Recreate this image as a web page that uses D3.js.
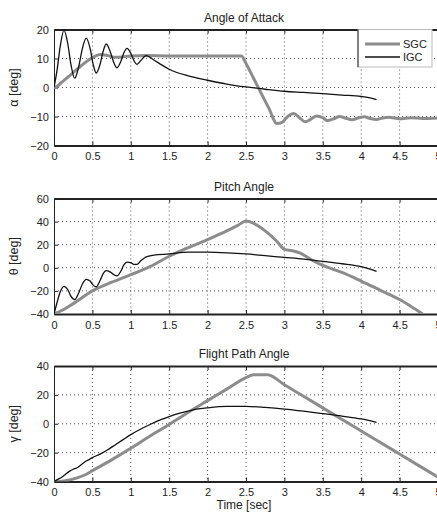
<!DOCTYPE html>
<html>
<head>
<meta charset="utf-8">
<script src="https://cdn.jsdelivr.net/npm/d3@7"></script>
<style>
  body { margin: 0; background: #fff; }
  svg { display: block; }
  text { font-family: "Liberation Sans", Arial, Helvetica, sans-serif; fill: #222; }
</style>
</head>
<body>
<div id="chart"></div>
<script>
var width = 437
var height = 513

var margin = { left: 54, right: -1 }

// time axis
var timeTicks = [0, 0.5, 1, 1.5, 2, 2.5, 3, 3.5, 4, 4.5, 5]
var timeLabels = ["0", "0.5", "1", "1.5", "2", "2.5", "3", "3.5", "4", "4.5", "5"]

// angle of attack [deg]
var alphaTicks = [-20, -10, 0, 10, 20]
var alphaSGC = [[0,0],[0.05,0.6],[0.1,1.8],[0.2,4],[0.3,6.3],[0.4,8.5],[0.5,10.3],[0.6,11.4],[0.7,11],
  [0.8,10.4],[0.9,10.6],[1.0,10.9],[1.2,11],[1.5,10.9],[2.0,10.9],[2.44,10.9],[2.5,8.3],[2.6,3.1],
  [2.7,-2.1],[2.8,-7.3],[2.9,-12.4],[2.97,-12],[3.05,-9.8],[3.12,-9],[3.2,-10.5],[3.27,-11.8],
  [3.35,-10.8],[3.42,-9.8],[3.5,-10.4],[3.56,-11.4],[3.64,-10.8],[3.72,-10],[3.8,-10.6],[3.88,-11.1],
  [3.96,-10.5],[4.04,-10.1],[4.12,-10.7],[4.2,-11],[4.28,-10.5],[4.36,-10.3],[4.5,-10.8],[4.65,-10.4],
  [4.8,-10.7],[5,-10.5]]
var alphaIGC = [[0,0],[0.04,6],[0.08,14],[0.13,19.8],[0.18,15],[0.22,8],[0.27,3.2],[0.32,7],[0.37,13.5],
  [0.42,17],[0.47,13.5],[0.51,8],[0.55,5],[0.6,8],[0.64,12.5],[0.68,15],[0.73,12.5],[0.78,8.5],[0.82,6.8],
  [0.87,9],[0.91,12],[0.95,13.5],[1.0,11.8],[1.04,9.3],[1.08,8],[1.13,9.3],[1.2,11],[1.3,9.5],[1.4,7.8],
  [1.5,6.3],[1.75,4],[2.0,2.5],[2.25,1.2],[2.5,0.2],[2.75,-0.6],[3.0,-1.3],[3.25,-1.7],[3.5,-2.1],
  [3.75,-2.6],[4.0,-3.1],[4.1,-3.5],[4.2,-4.2]]

// pitch angle [deg]
var thetaTicks = [-40, -20, 0, 20, 40, 60]
var thetaSGC = [[0,-40],[0.1,-37],[0.25,-31],[0.5,-20],[0.75,-12.5],[1.0,-6],[1.25,1],[1.5,10],[1.75,17.5],
  [2.0,24.5],[2.25,32],[2.4,37],[2.5,40.5],[2.6,38.5],[2.75,32],[2.9,23],[3.0,16],[3.1,14.8],[3.2,13],
  [3.35,7],[3.5,2],[3.75,-4],[4.0,-11.5],[4.25,-19.5],[4.5,-27.5],[4.65,-33.5],[4.8,-40]]
var thetaIGC = [[0,-40],[0.04,-30],[0.08,-21],[0.13,-16],[0.18,-19],[0.22,-24.5],[0.27,-27.5],[0.32,-22],
  [0.37,-14],[0.42,-10],[0.47,-11.5],[0.51,-15],[0.55,-16.5],[0.6,-11],[0.64,-5],[0.68,-2.5],[0.73,-3.5],
  [0.78,-6],[0.82,-7],[0.87,-3],[0.91,2.5],[0.95,5],[1.0,4.5],[1.04,3],[1.08,3],[1.13,6],[1.2,9.5],
  [1.3,11],[1.5,12],[1.75,13.5],[2.0,13.5],[2.25,13],[2.5,12],[2.75,10.5],[3.0,9],[3.25,7.5],[3.5,5.5],
  [3.75,3.5],[4.0,1],[4.2,-3]]

// flight path angle [deg]
var gammaTicks = [-40, -20, 0, 20, 40]
var gammaSGC = [[0,-40],[0.1,-39.8],[0.2,-39],[0.3,-37.5],[0.4,-35.5],[0.5,-32.5],[0.75,-25],[1.0,-17],
  [1.25,-8.5],[1.5,-0.5],[1.75,8],[2.0,16],[2.25,24],[2.5,32],[2.6,34],[2.78,34],[3.0,27],[3.25,19],
  [3.5,11],[3.75,3],[4.0,-5],[4.25,-13],[4.5,-21],[4.75,-29],[5.0,-37]]
var gammaIGC = [[0,-40],[0.05,-38.5],[0.1,-37],[0.15,-35],[0.2,-33],[0.25,-31.5],[0.3,-30.5],[0.35,-28.5],
  [0.4,-26.5],[0.45,-25],[0.5,-23.5],[0.6,-21],[0.7,-18],[0.8,-14.5],[0.9,-11],[1.0,-7.5],[1.1,-4.5],
  [1.25,-0.5],[1.4,3],[1.5,5],[1.65,7.5],[1.8,9.5],[2.0,11],[2.25,12],[2.5,12],[2.75,11.3],[3.0,10.2],
  [3.25,8.7],[3.5,7],[3.75,5.3],[4.0,3.3],[4.2,1]]

var panels = [
  { title: "Angle of Attack", ylabel: "\u03b1 [deg]", top: 29.5, bottom: 145.5, domain: [-20, 20],
    ticks: alphaTicks, sgc: alphaSGC, igc: alphaIGC, legend: true },
  { title: "Pitch Angle", ylabel: "\u03b8 [deg]", top: 198.5, bottom: 314, domain: [-40, 60],
    ticks: thetaTicks, sgc: thetaSGC, igc: thetaIGC },
  { title: "Flight Path Angle", ylabel: "\u03b3 [deg]", top: 366, bottom: 481.5, domain: [-40, 40],
    ticks: gammaTicks, sgc: gammaSGC, igc: gammaIGC }
]

var svg = d3.select("#chart").append("svg").attr("width", width).attr("height", height)

var xScale = d3.scaleLinear().domain([0, 5]).range([margin.left, 438])

function fmt(v) { return v < 0 ? "\u2212" + Math.abs(v) : "" + v }

function drawPanel(p, i) {
  var yScale = d3.scaleLinear().domain(p.domain).range([p.bottom, p.top])
  var g = svg.append("g")
  var x0 = xScale.range()[0], x1 = xScale.range()[1]

  g.append("clipPath").attr("id", "clip" + i)
    .append("rect").attr("x", x0).attr("y", p.top).attr("width", x1 - x0).attr("height", p.bottom - p.top)

  // dotted grid
  g.selectAll(".vgrid").data(timeTicks.slice(1, -1)).enter().append("line")
    .attr("x1", d => xScale(d)).attr("x2", d => xScale(d))
    .attr("y1", p.top).attr("y2", p.bottom)
    .attr("stroke", "#555").attr("stroke-width", 1).attr("stroke-dasharray", "1,3")
  g.selectAll(".hgrid").data(p.ticks.slice(1, -1)).enter().append("line")
    .attr("x1", x0).attr("x2", x1)
    .attr("y1", d => yScale(d)).attr("y2", d => yScale(d))
    .attr("stroke", "#555").attr("stroke-width", 1).attr("stroke-dasharray", "1,3")

  // axes
  var xBottom = d3.axisBottom(xScale).tickValues(timeTicks).tickSize(-4).tickSizeOuter(0).tickPadding(7)
    .tickFormat((d, k) => timeLabels[k])
  var gb = g.append("g").attr("transform", "translate(0," + p.bottom + ")").call(xBottom)
  var xTop = d3.axisTop(xScale).tickValues(timeTicks).tickSize(-4).tickSizeOuter(0).tickFormat("")
  var gt = g.append("g").attr("transform", "translate(0," + p.top + ")").call(xTop)
  var yLeft = d3.axisLeft(yScale).tickValues(p.ticks).tickSize(-4).tickSizeOuter(0).tickPadding(5).tickFormat(fmt)
  var gl = g.append("g").attr("transform", "translate(" + x0 + ",0)").call(yLeft)

  ;[gb, gt, gl].forEach(function(a) {
    a.select(".domain").attr("stroke", "#222")
    a.selectAll(".tick line").attr("stroke", "#222")
    a.selectAll("text").style("font-family", "'Liberation Sans', Arial, sans-serif")
      .style("font-size", "11px").attr("fill", "#222")
  })
  gb.select(".domain").attr("stroke-width", 1.8)
  gt.select(".domain").attr("stroke-width", 1.8)

  // title and y label
  g.append("text").attr("x", (x0 + x1) / 2 - 2).attr("y", p.top - 8)
    .attr("text-anchor", "middle").style("font-size", "12px").text(p.title)
  g.append("text")
    .attr("transform", "translate(18," + (p.top + p.bottom) / 2 + ") rotate(-90)")
    .attr("text-anchor", "middle").style("font-size", "12.5px").text(p.ylabel)

  var line = d3.line().x(d => xScale(d[0])).y(d => yScale(d[1])).curve(d3.curveMonotoneX)

  var plot = g.append("g").attr("clip-path", "url(#clip" + i + ")")
  plot.append("path").datum(p.sgc).attr("d", line)
    .attr("fill", "none").attr("stroke", "#8c8c8c").attr("stroke-width", 3)
  plot.append("path").datum(p.igc).attr("d", line)
    .attr("fill", "none").attr("stroke", "#111").attr("stroke-width", 1.3)

  if (p.legend) {
    var lg = g.append("g")
    lg.append("rect").attr("x", 358).attr("y", p.top).attr("width", 74).attr("height", 37.5)
      .attr("fill", "#fff").attr("stroke", "#bbb").attr("stroke-width", 1)
    lg.append("line").attr("x1", 358).attr("x2", 358).attr("y1", p.top).attr("y2", p.top + 37.5)
      .attr("stroke", "#222").attr("stroke-width", 1)
    var entries = [["SGC", "#8c8c8c", 3], ["IGC", "#111", 1.3]]
    entries.forEach(function(e, k) {
      var yy = 44 + k * 13
      lg.append("line").attr("x1", 365).attr("x2", 400).attr("y1", yy).attr("y2", yy)
        .attr("stroke", e[1]).attr("stroke-width", e[2])
      lg.append("text").attr("x", 403).attr("y", yy + 4).style("font-size", "11px").text(e[0])
    })
  }
}

panels.forEach(drawPanel)

svg.append("text").attr("x", 244).attr("y", 509).attr("text-anchor", "middle")
  .style("font-size", "12px").text("Time [sec]")
</script>
</body>
</html>
